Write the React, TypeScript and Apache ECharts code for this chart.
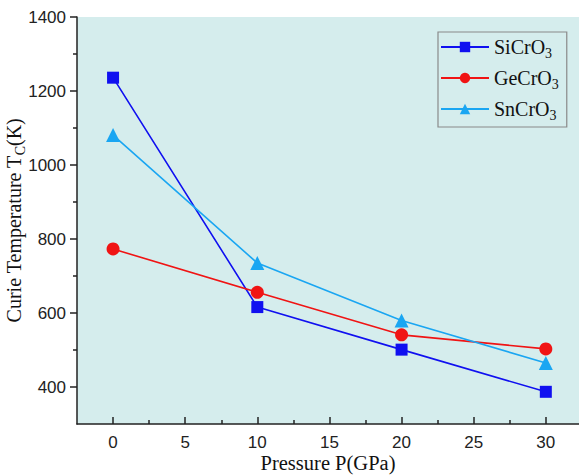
import React, { useEffect, useRef } from "react";
import * as echarts from "echarts";

const pressures = [0, 10, 20, 30];
const siCrO3 = [1236, 616, 501, 387];
const geCrO3 = [773, 656, 541, 503];
const snCrO3 = [1081, 735, 580, 465];
const seriesNames = ["SiCrO3", "GeCrO3", "SnCrO3"];
const xMajorTicks = [0, 5, 10, 15, 20, 25, 30];
const xMinorTicks = [2.5, 7.5, 12.5, 17.5, 22.5, 27.5];
const yMajorTicks = [400, 600, 800, 1000, 1200, 1400];
const yMinorTicks = [500, 700, 900, 1100, 1300];

const BG = "#d5eded";
const SERIF = "'Liberation Serif', 'Times New Roman', serif";
const SANS = "'Liberation Sans', Arial, sans-serif";

export default function App() {
  const ref = useRef<HTMLDivElement>(null);
  useEffect(() => {
    document.body.style.margin = "0";
    const chart = echarts.init(ref.current!, undefined, { renderer: "svg" });
    const mk = (arr: number[]) => pressures.map((p, i) => [p, arr[i]]);
    const subRich = {
      b: { fontFamily: SERIF, fontSize: 20, color: "#111" },
      s: { fontFamily: SERIF, fontSize: 14, color: "#111", padding: [12, 0, 0, 0] },
    };
    const axisLine = { show: true, onZero: false, lineStyle: { color: "#222", width: 1.5 } };
    const hiddenLine = { show: false, onZero: false };
    chart.setOption({
      animation: false,
      backgroundColor: "#ffffff",
      grid: {
        left: 77,
        right: 0,
        top: 17,
        bottom: 51,
        show: true,
        backgroundColor: BG,
        borderWidth: 0,
        containLabel: false,
        outerBoundsMode: "none",
      },
      legend: {
        orient: "vertical",
        left: 438,
        top: 32,
        width: 127,
        padding: [5, 8, 5, 2],
        itemGap: 8,
        itemWidth: 48,
        itemHeight: 13,
        borderColor: "#8a8a8a",
        borderWidth: 1.2,
        backgroundColor: BG,
        data: seriesNames,
        formatter: (name: string) => "{b|" + name.slice(0, -1) + "}{s|3}",
        textStyle: { rich: subRich },
      },
      xAxis: [
        {
          type: "value",
          min: -2.5,
          max: 32.3,
          axisLine,
          splitLine: { show: false },
          axisTick: {
            show: true,
            inside: true,
            length: 7,
            customValues: xMajorTicks,
            lineStyle: { color: "#222", width: 1.5 },
          },
          axisLabel: {
            customValues: xMajorTicks,
            fontFamily: SANS,
            fontSize: 17,
            color: "#222",
            margin: 10,
          },
          name: "Pressure P(GPa)",
          nameLocation: "middle",
          nameGap: 28,
          nameMoveOverlap: false,
          nameTextStyle: { fontFamily: SERIF, fontSize: 20.5, color: "#111", verticalAlign: "top" },
        },
        {
          type: "value",
          position: "bottom",
          min: -2.5,
          max: 32.3,
          axisLine: hiddenLine,
          splitLine: { show: false },
          axisTick: {
            show: true,
            inside: true,
            length: 4,
            customValues: xMinorTicks,
            lineStyle: { color: "#222", width: 1.5 },
          },
          axisLabel: { show: false },
        },
      ],
      yAxis: [
        {
          type: "value",
          min: 300,
          max: 1400,
          axisLine,
          splitLine: { show: false },
          axisTick: {
            show: true,
            inside: false,
            length: 7,
            customValues: yMajorTicks,
            lineStyle: { color: "#222", width: 1.5 },
          },
          axisLabel: {
            customValues: yMajorTicks,
            formatter: (v: number) => String(v),
            fontFamily: SANS,
            fontSize: 17,
            color: "#222",
            margin: 11,
          },
          name: "{b|Curie Temperature T}{s|C}{b|(K)}",
          nameLocation: "middle",
          nameGap: 50,
          nameMoveOverlap: false,
          nameTextStyle: { rich: subRich },
        },
        {
          type: "value",
          position: "left",
          min: 300,
          max: 1400,
          axisLine: hiddenLine,
          splitLine: { show: false },
          axisTick: {
            show: true,
            inside: false,
            length: 4,
            customValues: yMinorTicks,
            lineStyle: { color: "#222", width: 1.5 },
          },
          axisLabel: { show: false },
        },
      ],
      series: [
        {
          name: seriesNames[0],
          type: "line",
          data: mk(siCrO3),
          symbol: "rect",
          symbolSize: 12,
          color: "#1010f0",
          lineStyle: { width: 1.6 },
        },
        {
          name: seriesNames[1],
          type: "line",
          data: mk(geCrO3),
          symbol: "circle",
          symbolSize: 13,
          color: "#f01414",
          lineStyle: { width: 1.6 },
        },
        {
          name: seriesNames[2],
          type: "line",
          data: mk(snCrO3),
          symbol: "triangle",
          symbolSize: 14,
          color: "#1aa6f2",
          lineStyle: { width: 1.6 },
        },
      ],
    });
    return () => chart.dispose();
  }, []);
  return <div ref={ref} style={{ width: 579, height: 475 }} />;
}
